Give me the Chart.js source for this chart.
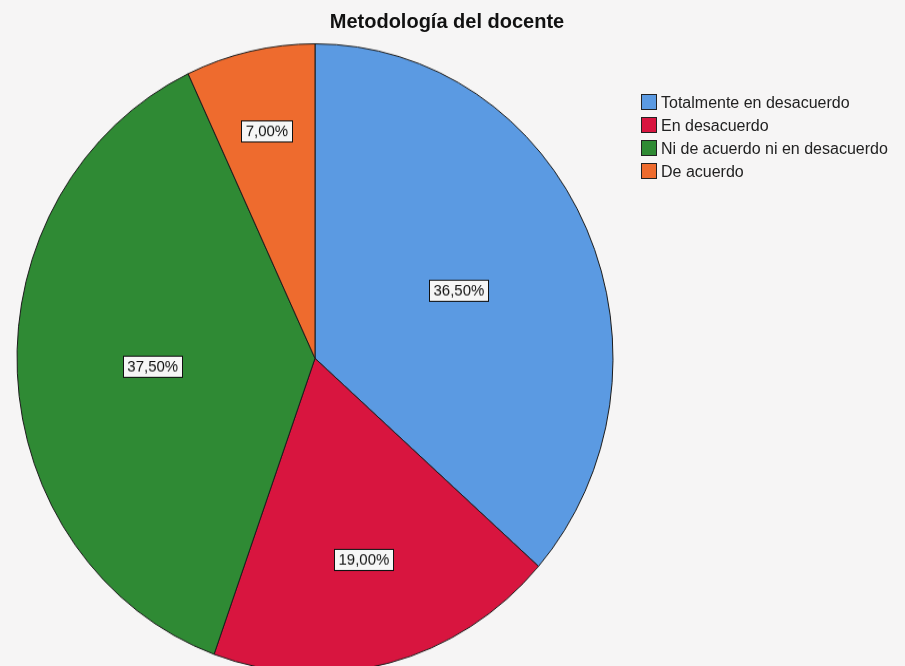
<!DOCTYPE html>
<html>
<head>
<meta charset="utf-8">
<script src="https://cdn.jsdelivr.net/npm/chart.js@4/dist/chart.umd.min.js"></script>
<style>
  body { margin: 0; background: #f6f5f5; }
  #wrap { position: relative; width: 905px; height: 666px; overflow: hidden; }
  #title {
    position: absolute; left: 0; width: 894px; top: 10px;
    text-align: center; font: bold 20px "Liberation Sans", Arial, sans-serif; color: #111;
  }
  #legend {
    position: absolute; left: 641px; top: 93px;
    font: 16px "Liberation Sans", Arial, sans-serif; color: #222;
  }
  #legend div { height: 23px; line-height: 20px; white-space: nowrap; }
  #legend span.box {
    display: inline-block; width: 14px; height: 14px; border: 1px solid #222;
    vertical-align: -2px; margin-right: 4px;
  }
</style>
</head>
<body>
<div id="wrap">
  <!-- the original picture is a bit taller than wide, so the canvas is stretched vertically -->
  <canvas id="pie" width="905" height="631" style="width:905px;height:666px"></canvas>
  <div id="title">Metodología del docente</div>
  <div id="legend"></div>
</div>
<script>
const categories = ["Totalmente en desacuerdo", "En desacuerdo", "Ni de acuerdo ni en desacuerdo", "De acuerdo"];
const percents = [36.5, 19.0, 37.5, 7.0];
const colors = ["#5b9ae2", "#d8153f", "#2f8a34", "#ee6b2e"];
// how far out (share of radius) each label box sits
const labelDist = [0.53, 0.66, 0.545, 0.74];

// legend
const legend = document.getElementById("legend");
categories.forEach((c, i) => {
  const row = document.createElement("div");
  row.innerHTML = '<span class="box" style="background:' + colors[i] + '"></span>' + c;
  legend.appendChild(row);
});

const boxLabels = {
  id: "boxLabels",
  afterDatasetsDraw(chart) {
    const ctx = chart.ctx;
    const meta = chart.getDatasetMeta(0);
    ctx.save();
    ctx.font = '15px "Liberation Sans", Arial, sans-serif';
    ctx.textAlign = "center";
    ctx.textBaseline = "middle";
    meta.data.forEach((arc, i) => {
      const p = arc.getProps(["x", "y", "startAngle", "endAngle", "outerRadius"]);
      const mid = (p.startAngle + p.endAngle) / 2;
      const cx = p.x + Math.cos(mid) * p.outerRadius * labelDist[i];
      const cy = p.y + Math.sin(mid) * p.outerRadius * labelDist[i];
      const txt = percents[i].toFixed(2).replace(".", ",") + "%";
      const w = Math.round(ctx.measureText(txt).width + 8);
      const h = 20;
      const x0 = Math.round(cx - w / 2) + 0.5, y0 = Math.round(cy - h / 2) + 0.5;
      ctx.fillStyle = "#f6f6f6";
      ctx.fillRect(x0, y0, w, h);
      ctx.strokeStyle = "#111";
      ctx.lineWidth = 1;
      ctx.strokeRect(x0, y0, w, h);
      ctx.fillStyle = "#111";
      ctx.fillText(txt, cx, cy + 1);
    });
    ctx.restore();
  }
};

new Chart(document.getElementById("pie"), {
  type: "pie",
  data: {
    labels: categories,
    datasets: [{
      data: percents,
      backgroundColor: colors,
      borderColor: "#1a1a1a",
      borderWidth: 1
    }]
  },
  options: {
    responsive: false,
    animation: false,
    radius: 298,
    layout: { padding: { left: 17, right: 292, top: 48, bottom: 0 } },
    plugins: {
      legend: { display: false },
      title: { display: false },
      tooltip: { enabled: false }
    }
  },
  plugins: [boxLabels]
});
</script>
</body>
</html>
